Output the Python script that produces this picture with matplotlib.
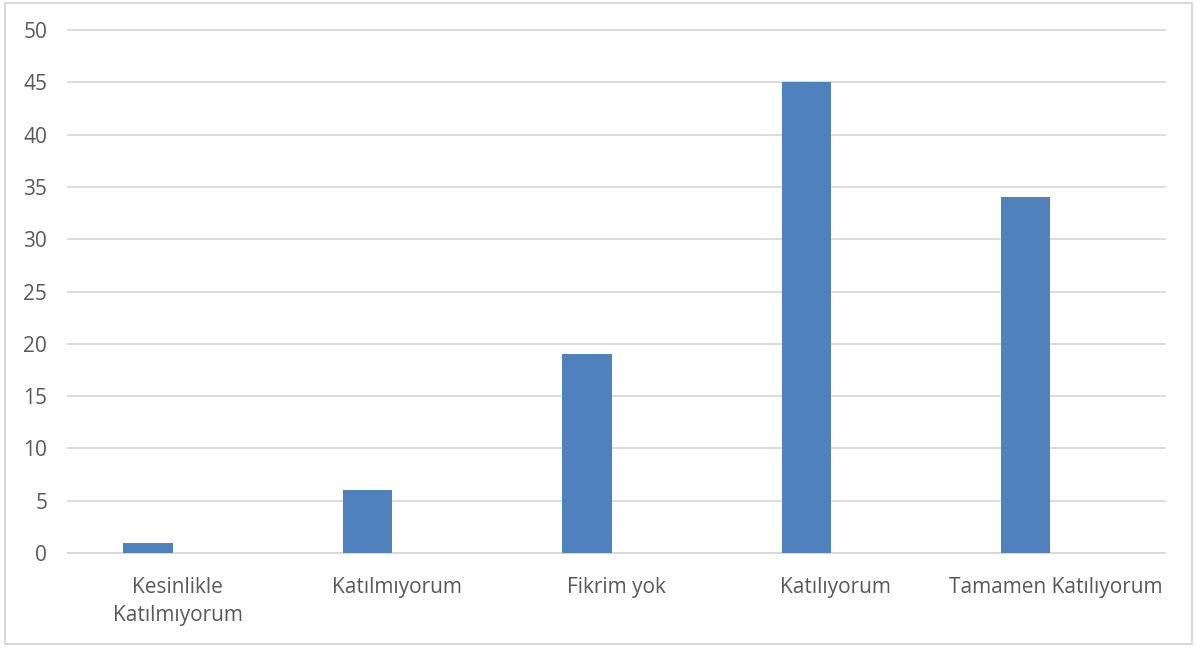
import matplotlib.pyplot as plt
from matplotlib.patches import Rectangle
import numpy as np

categories = ["Kesinlikle\nKatılmıyorum", "Katılmıyorum", "Fikrim yok",
              "Katılıyorum", "Tamamen Katılıyorum"]
values = [1, 6, 19, 45, 34]
y_ticks = [0, 5, 10, 15, 20, 25, 30, 35, 40, 45, 50]

plt.rcParams["font.family"] = ["Open Sans", "DejaVu Sans"]
text_color = "#595959"
grid_color = "#D9D9D9"

fig = plt.figure(figsize=(11.97, 6.48), dpi=100)
ax = fig.add_axes([0.0568, 0.1466, 0.9165, 0.8071])

x = np.arange(len(categories))
ax.bar(x - 0.135, values, width=0.225, color="#4F81BD", zorder=3)

ax.set_xlim(-0.5, len(categories) - 0.5)
ax.set_ylim(0, 50)
ax.set_yticks(y_ticks)
ax.set_xticks(x)
ax.set_xticklabels(categories, linespacing=1.45)
ax.tick_params(axis="both", length=0, labelsize=15, colors=text_color)
ax.tick_params(axis="y", pad=15)
ax.tick_params(axis="x", pad=17)

ax.yaxis.grid(True, color=grid_color, linewidth=1.3, zorder=0)
for line in ax.yaxis.get_gridlines():
    line.set_clip_on(False)
for side in ["left", "right", "top"]:
    ax.spines[side].set_visible(False)
ax.spines["bottom"].set_color(grid_color)
ax.spines["bottom"].set_linewidth(1.3)

# light frame around the whole chart area
fig.patches.append(Rectangle((0.004, 0.006), 0.992, 0.99, transform=fig.transFigure,
                             fill=False, edgecolor=grid_color, linewidth=1.5))

fig.savefig("out.png", dpi=100)
